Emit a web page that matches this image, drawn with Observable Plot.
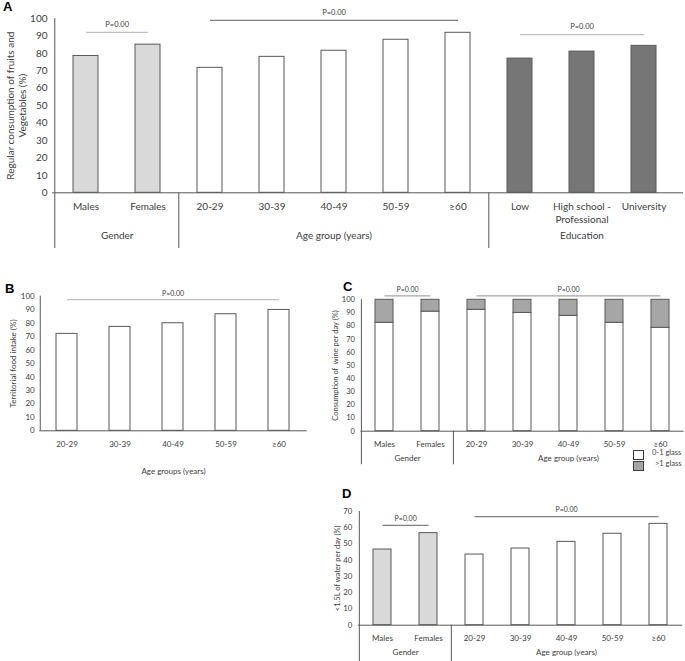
<!DOCTYPE html>
<html><head><meta charset="utf-8">
<script src="https://cdn.jsdelivr.net/npm/d3@7"></script>
<script src="https://cdn.jsdelivr.net/npm/@observablehq/plot@0.6"></script>
<style>
body{margin:0;background:#fff;}
#root{position:relative;width:685px;height:661px;overflow:hidden;font-family:Lato,"Open Sans",sans-serif;color:#404040;}
.plabel{position:absolute;font:bold 13px "Liberation Sans",Arial,sans-serif;color:#000;}
</style></head><body><div id="root"></div>
<script>
// ---------------- DATA ----------------
// Panel A
const catsA = ["Males","Females","20-29","30-39","40-49","50-59","≥60","Low","High school -\nProfessional","University"];
const groupsA = ["Gender","Gender","Age group (years)","Age group (years)","Age group (years)","Age group (years)","Age group (years)","Education","Education","Education"];
const valuesA = [78.5, 85.0, 71.7, 78.0, 81.5, 87.8, 91.8, 77.0, 81.0, 84.3];
const pLinesA = [
  {from:"Males", to:"Females", level:92.0, label:"P=0.00", tone:"light"},
  {from:"20-29", to:"≥60", level:98.9, label:"P=0.00", tone:"dark"},
  {from:"Low", to:"University", level:90.8, label:"P=0.00", tone:"light"}
];
// Panel B
const catsB = ["20-29","30-39","40-49","50-59","≥60"];
const valuesB = [72.0, 77.2, 79.9, 86.6, 89.8];
const pLinesB = [{from:"20-29", to:"≥60", level:97.5, label:"P=0.00", tone:"light"}];
// Panel C
const catsC = ["Males","Females","20-29","30-39","40-49","50-59","≥60"];
const groupsC = ["Gender","Gender","Age group (years)","Age group (years)","Age group (years)","Age group (years)","Age group (years)"];
const wineLow = [82.5, 91.0, 92.4, 90.0, 87.8, 82.5, 78.7];
const wineHigh = [17.5, 9.0, 7.6, 10.0, 12.2, 17.5, 21.3];
const legendC = ["0-1 glass", ">1 glass"];
const pLinesC = [
  {from:"Males", to:"Females", level:103.0, label:"P=0.00", tone:"mid"},
  {from:"20-29", to:"≥60", level:103.0, label:"P=0.00", tone:"mid"}
];
// Panel D
const catsD = ["Males","Females","20-29","30-39","40-49","50-59","≥60"];
const groupsD = groupsC;
const valuesD = [46.6, 56.7, 43.5, 47.2, 51.3, 56.3, 62.4];
const pLinesD = [
  {from:"Males", to:"Females", level:61.4, label:"P=0.00", tone:"dark"},
  {from:"20-29", to:"≥60", level:66.9, label:"P=0.00", tone:"dark"}
];

// ---------------- STYLES ----------------
const AXIS = "#595959";
const BAR_STROKE = "#595959";
const FILL = {"Gender":"#d9d9d9","Age group (years)":"#ffffff","Education":"#767676"};
const PCOL = {light:"#bfbfbf", mid:"#a6a6a6", dark:"#808080"};
const FONT = "Lato, 'Open Sans', sans-serif";
const root = document.getElementById("root");

function buildPanel(c) {
  const n = c.cats.length;
  const plotW = c.width - c.mL - c.mR;
  const plotH = c.height - c.mT - c.mB;
  const step = plotW / n;
  const idx = k => c.cats.indexOf(k);
  const marks = [];
  const gl = [];
  if (c.groups) c.groups.forEach((g, i) => {
    const last = gl[gl.length - 1];
    if (last && last.name === g) last.end = i; else gl.push({name: g, start: i, end: i});
  });
  marks.push(...c.barMarks());
  marks.push(Plot.ruleX([c.cats[0]], {x: d => d, dx: -step / 2, stroke: AXIS, insetBottom: -(c.leftExt || 0)}));
  if (gl.length > 1) {
    marks.push(Plot.ruleX(gl.slice(1).map(g => c.cats[g.start]), {x: d => d, dx: -step / 2, stroke: AXIS, insetTop: plotH, insetBottom: -c.sepExt}));
  }
  marks.push(Plot.ruleY([0], {stroke: AXIS, insetRight: -(c.baseExtR || 0), insetLeft: -(c.baseExtL || 0)}));
  gl.forEach(g => {
    const mid = (g.start + g.end) / 2, base = Math.floor(mid), frac = mid - base;
    marks.push(Plot.text([g.name], {x: () => c.cats[base], text: d => d, frameAnchor: "bottom", dy: c.groupDy, dx: frac * step, fontSize: c.catFs}));
  });
  c.pLines.forEach(p => {
    marks.push(Plot.link([p], {x1: "from", x2: "to", y1: "level", y2: "level", stroke: PCOL[p.tone], strokeWidth: 1.2}));
    const mid = (idx(p.from) + idx(p.to)) / 2, base = Math.floor(mid), frac = mid - base;
    marks.push(Plot.text([p], {x: () => c.cats[base], y: "level", text: "label", dx: frac * step, dy: c.pDy, fontSize: c.pFs}));
  });
  marks.push(Plot.axisY({ticks: c.ticks, tickSize: 0, tickPadding: c.tickPad, fontSize: c.tickFs, label: null}));
  marks.push(Plot.axisX({tickSize: 0, tickPadding: c.catPad, fontSize: c.catFs, lineHeight: 1.3, label: null}));
  marks.push(Plot.text([c.yLabel], {text: d => d, frameAnchor: "left", textAnchor: "middle", rotate: -90, dx: c.yLabelDx, fontSize: c.yLabelFs, lineHeight: 1.2}));
  if (c.extra) marks.push(...c.extra);
  const svg = Plot.plot({
    width: c.width, height: c.height,
    marginLeft: c.mL, marginRight: c.mR, marginTop: c.mT, marginBottom: c.mB,
    x: {type: "band", domain: c.cats, paddingInner: 0.6, paddingOuter: 0.3},
    y: {domain: [0, c.yMax]},
    color: {type: "identity"},
    style: {fontFamily: FONT, fontSize: "10px", color: "#404040", background: "transparent", overflow: "visible"},
    marks
  });
  svg.style.position = "absolute";
  svg.style.left = c.left + "px";
  svg.style.top = c.top + "px";
  root.appendChild(svg);
}

// Panel A
const tableA = catsA.map((cat, i) => ({cat, group: groupsA[i], value: valuesA[i]}));
buildPanel({
  left: 0, top: 0, width: 685, height: 260,
  mL: 52, mR: 9, mT: 18, mB: 67.7,
  cats: catsA, groups: groupsA, yMax: 100, ticks: d3.range(0, 101, 10),
  barMarks: () => [Plot.barY(tableA, {x: "cat", y: "value", fill: d => FILL[d.group], stroke: BAR_STROKE, strokeWidth: 1})],
  pLines: pLinesA, pDy: -8, pFs: 7.5,
  leftExt: 55.7, sepExt: 55.7, baseExtR: 7, groupDy: 45.7,
  tickPad: 5, tickFs: 10, catPad: 7.5, catFs: 10,
  yLabel: "Regular consumption of fruits and\nVegetables (%)", yLabelDx: -36, yLabelFs: 10
});

// Panel B
const tableB = catsB.map((cat, i) => ({cat, value: valuesB[i]}));
buildPanel({
  left: 0, top: 280, width: 320, height: 200,
  mL: 39.25, mR: 13.25, mT: 15.7, mB: 49.7,
  cats: catsB, groups: null, yMax: 100, ticks: d3.range(0, 101, 10),
  barMarks: () => [Plot.barY(tableB, {x: "cat", y: "value", fill: "#ffffff", stroke: BAR_STROKE, strokeWidth: 1})],
  pLines: pLinesB, pDy: -6, pFs: 7,
  leftExt: 0, sepExt: 0, groupDy: 0,
  tickPad: 5, tickFs: 8, catPad: 9, catFs: 8,
  yLabel: "Territorial food intake (%)", yLabelDx: -27, yLabelFs: 8,
  extra: [Plot.text(["Age groups (years)"], {text: d => d, frameAnchor: "bottom", dy: 42.7, fontSize: 8})]
});

// Panel C
const tableC = [];
catsC.forEach((cat, i) => {
  tableC.push({cat, part: legendC[0], value: wineLow[i]});
  tableC.push({cat, part: legendC[1], value: wineHigh[i]});
});
const partFill = {"0-1 glass": "#ffffff", ">1 glass": "#a6a6a6"};
buildPanel({
  left: 330, top: 280, width: 355, height: 190,
  mL: 30.4, mR: 1.4, mT: 19.3, mB: 39.3,
  cats: catsC, groups: groupsC, yMax: 100, ticks: d3.range(0, 101, 10),
  barMarks: () => [Plot.barY(tableC, {x: "cat", y: "value", fill: d => partFill[d.part], stroke: BAR_STROKE, strokeWidth: 1})],
  pLines: pLinesC, pDy: -6, pFs: 7,
  leftExt: 33.6, sepExt: 33.6, groupDy: 29.5,
  tickPad: 6, tickFs: 7.5, catPad: 8, catFs: 8,
  yLabel: "Consumption of  wine per day (%)", yLabelDx: -25.5, yLabelFs: 7.5
});

// Panel D
const tableD = catsD.map((cat, i) => ({cat, group: groupsD[i], value: valuesD[i]}));
buildPanel({
  left: 330, top: 490, width: 355, height: 171,
  mL: 27.8, mR: 2.8, mT: 21, mB: 36.3,
  cats: catsD, groups: groupsD, yMax: 70, ticks: d3.range(0, 71, 10),
  barMarks: () => [Plot.barY(tableD, {x: "cat", y: "value", fill: d => FILL[d.group], stroke: BAR_STROKE, strokeWidth: 1})],
  pLines: pLinesD, pDy: -7, pFs: 7,
  leftExt: 36.3, sepExt: 36.3, groupDy: 30,
  tickPad: 6, tickFs: 7.8, catPad: 8, catFs: 8,
  yLabel: "<1.5L of water per day (%)", yLabelDx: -21, yLabelFs: 7.5
});

// Legend for panel C
legendC.forEach((lab, i) => {
  const box = document.createElement("div");
  box.style.cssText = `position:absolute;left:633px;top:${450 + i * 10.5}px;width:9px;height:8px;border:1px solid #404040;background:${partFill[lab]};`;
  root.appendChild(box);
  const t = document.createElement("div");
  t.textContent = lab;
  t.style.cssText = `position:absolute;left:${i === 0 ? 652 : 655}px;top:${448 + i * 10.5}px;font-size:7.5px;line-height:10px;white-space:nowrap;`;
  root.appendChild(t);
});

// Panel letters
[["A", 3, -1], ["B", 5, 281], ["C", 343, 279], ["D", 342, 486]].forEach(([l, x, y]) => {
  const d = document.createElement("div");
  d.className = "plabel";
  d.textContent = l;
  d.style.left = x + "px"; d.style.top = y + "px";
  root.appendChild(d);
});
</script></body></html>
